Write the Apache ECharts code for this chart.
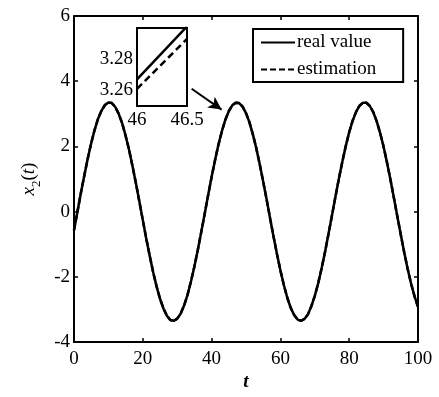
<!DOCTYPE html>
<html lang="en">

<head>
    <meta charset="UTF-8">
    <title>x2(t)</title>
    <script src="https://cdn.jsdelivr.net/npm/echarts@6/dist/echarts.min.js"></script>
    <style>
        * {
            margin: 0;
            padding: 0;
        }

        #main {
            width: 439px;
            height: 397px;
        }
    </style>
</head>

<body>
    <div id="main"></div>
    <script>
        // t = 0, 1, ..., 100
        var tValues = [];
        for (var i = 0; i <= 100; i++) tValues.push(i);

        // x2(t), every 1 unit of t
        var realValue = [
            -0.57, 0.00, 0.57, 1.11, 1.63, 2.10, 2.51, 2.85, 3.10, 3.27,
            3.35, 3.33, 3.21, 3.00, 2.71, 2.33, 1.90, 1.40, 0.87, 0.31,
            -0.26, -0.82, -1.35, -1.85, -2.29, -2.67, -2.97, -3.19, -3.32, -3.35,
            -3.28, -3.13, -2.88, -2.55, -2.14, -1.68, -1.17, -0.62, -0.06, 0.51,
            1.06, 1.58, 2.06, 2.47, 2.82, 3.08, 3.26, 3.34, 3.33, 3.22,
            3.02, 2.74, 2.37, 1.94, 1.45, 0.92, 0.37, -0.20, -0.76, -1.30,
            -1.80, -2.25, -2.64, -2.95, -3.17, -3.31, -3.35, -3.29, -3.15, -2.90,
            -2.58, -2.19, -1.73, -1.22, -0.67, -0.11, 0.46, 1.01, 1.53, 2.01,
            2.44, 2.79, 3.06, 3.25, 3.34, 3.34, 3.24, 3.05, 2.77, 2.41,
            1.99, 1.50, 0.98, 0.42, -0.15, -0.71, -1.25, -1.76, -2.21, -2.60,
            -2.92
        ];
        // at this scale the estimation lies on top of the real value
        var estimation = realValue;

        // zoomed-in window (inset)
        var insetT = [46, 46.5];
        var insetReal = [3.267, 3.301];
        var insetEst = [3.261, 3.293];
        var insetYLabels = [3.26, 3.28];

        // arrow from the inset to the second peak, in data units
        var arrowFrom = [34.2, 3.77];
        var arrowTo = [42.9, 3.13];

        function pairs(xs, ys) {
            return xs.map(function (x, k) { return [x, ys[k]]; });
        }

        var font = 'Liberation Serif';
        var black = '#000';

        var chartDom = document.getElementById('main');
        var myChart = echarts.init(chartDom, null, { renderer: 'canvas' });

        var frameAxis = {
            axisLine: { show: true, onZero: false, lineStyle: { color: black, width: 2 } },
            axisTick: { show: true, inside: true, length: 4, lineStyle: { color: black, width: 1.5 } },
            splitLine: { show: false }
        };

        option = {
            backgroundColor: '#fff',
            animation: false,
            legend: {
                data: ['real value', 'estimation'],
                orient: 'vertical',
                left: 253,
                top: 29,
                padding: [4, 27, 3, 7],
                itemGap: 8,
                itemWidth: 34,
                itemHeight: 14,
                itemStyle: { opacity: 0 },
                borderColor: black,
                borderWidth: 2,
                backgroundColor: '#fff',
                textStyle: { fontFamily: font, fontSize: 19, color: black, padding: [0, 0, 0, -3] }
            },
            grid: [
                { left: 74, top: 16, right: 21, bottom: 43 },
                { left: 137, top: 28, width: 50, height: 78, show: true, backgroundColor: '#fff', borderWidth: 0 }
            ],
            xAxis: [
                Object.assign({}, frameAxis, {
                    type: 'value', gridIndex: 0, min: 0, max: 100, interval: 20,
                    name: 't', nameLocation: 'middle', nameGap: 24,
                    nameTextStyle: { fontFamily: font, fontSize: 19, fontStyle: 'italic', fontWeight: 'bold', color: black },
                    axisLabel: { fontFamily: font, fontSize: 19, color: black, margin: 7 }
                }),
                Object.assign({}, frameAxis, {
                    type: 'value', gridIndex: 0, position: 'top', min: 0, max: 100, interval: 20,
                    axisLabel: { show: false }
                }),
                {
                    type: 'value', gridIndex: 1, min: 46, max: 46.5, interval: 0.5,
                    axisLine: { show: true, onZero: false, lineStyle: { color: black, width: 2 } },
                    axisTick: { show: false },
                    splitLine: { show: false },
                    axisLabel: { fontFamily: font, fontSize: 19, color: black, margin: 5, showMinLabel: true, showMaxLabel: true }
                },
                {
                    type: 'value', gridIndex: 1, position: 'top', min: 46, max: 46.5,
                    axisLine: { show: true, onZero: false, lineStyle: { color: black, width: 2 } },
                    axisTick: { show: false }, axisLabel: { show: false }, splitLine: { show: false }
                }
            ],
            yAxis: [
                Object.assign({}, frameAxis, {
                    type: 'value', gridIndex: 0, min: -4, max: 6, interval: 2,
                    name: '{i|x}{s|2}{n|(}{i|t}{n|)}', nameLocation: 'middle', nameGap: 32, nameRotate: 90,
                    nameTextStyle: {
                        color: black,
                        rich: {
                            i: { fontFamily: font, fontSize: 19, fontStyle: 'italic', color: black, verticalAlign: 'bottom', lineHeight: 22 },
                            n: { fontFamily: font, fontSize: 19, color: black, verticalAlign: 'bottom', lineHeight: 22 },
                            s: { fontFamily: font, fontSize: 13, color: black, verticalAlign: 'bottom', lineHeight: 22, padding: [0, 0, -5, 0] }
                        }
                    },
                    axisLabel: { fontFamily: font, fontSize: 19, color: black, margin: 4 }
                }),
                Object.assign({}, frameAxis, {
                    type: 'value', gridIndex: 0, position: 'right', min: -4, max: 6, interval: 2,
                    axisLabel: { show: false }
                }),
                {
                    type: 'value', gridIndex: 1, min: 3.25, max: 3.30,
                    axisLine: { show: true, onZero: false, lineStyle: { color: black, width: 2 } },
                    axisTick: { show: false },
                    splitLine: { show: false },
                    axisLabel: {
                        customValues: insetYLabels,
                        fontFamily: font, fontSize: 19, color: black, margin: 4,
                        formatter: function (v) { return v.toFixed(2); }
                    }
                },
                {
                    type: 'value', gridIndex: 1, position: 'right', min: 3.25, max: 3.30,
                    axisLine: { show: true, onZero: false, lineStyle: { color: black, width: 2 } },
                    axisTick: { show: false }, axisLabel: { show: false }, splitLine: { show: false }
                }
            ],
            series: [
                {
                    name: 'real value',
                    type: 'line',
                    xAxisIndex: 0, yAxisIndex: 0,
                    showSymbol: false, symbol: 'none',
                    lineStyle: { color: black, width: 2.5 },
                    itemStyle: { color: black },
                    data: pairs(tValues, realValue),
                    markLine: {
                        silent: true,
                        symbol: ['none', 'arrow'],
                        symbolSize: [10, 13],
                        label: { show: false },
                        lineStyle: { color: black, width: 2, type: 'solid' },
                        data: [[{ coord: arrowFrom }, { coord: arrowTo }]]
                    }
                },
                {
                    name: 'estimation',
                    type: 'line',
                    xAxisIndex: 0, yAxisIndex: 0,
                    showSymbol: false, symbol: 'none',
                    lineStyle: { color: black, width: 2.5, type: [6, 3] },
                    itemStyle: { color: black },
                    data: pairs(tValues, estimation)
                },
                {
                    name: 'real value',
                    type: 'line',
                    xAxisIndex: 2, yAxisIndex: 2,
                    showSymbol: false, symbol: 'none',
                    lineStyle: { color: black, width: 2.5 },
                    data: pairs(insetT, insetReal)
                },
                {
                    name: 'estimation',
                    type: 'line',
                    xAxisIndex: 2, yAxisIndex: 2,
                    showSymbol: false, symbol: 'none',
                    lineStyle: { color: black, width: 2.5, type: [7, 4] },
                    data: pairs(insetT, insetEst)
                }
            ]
        };
        myChart.setOption(option);
    </script>
</body>

</html>
